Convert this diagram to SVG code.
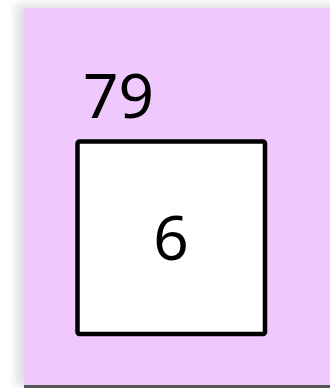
<svg xmlns="http://www.w3.org/2000/svg" width="330" height="388" viewBox="0 0 330 388">
<defs>
<filter id="sh" x="-20%" y="-20%" width="140%" height="140%">
<feGaussianBlur stdDeviation="5"/>
</filter>
<style>
.num{font-family:"Noto Sans",sans-serif;font-size:62px;fill:#000}
</style>
</defs>
<rect width="330" height="388" fill="#ffffff"/>
<rect x="16" y="4" width="330" height="382" fill="#b0b0b0" filter="url(#sh)" opacity="0.4"/>
<rect x="24" y="8" width="306" height="378" fill="#efc8fd"/>
<rect x="24" y="385" width="306" height="3" fill="#555"/>
<g id="outer-label">
<text class="num" x="83" y="118">79</text>
</g>
<g id="node-6">
<rect x="77.5" y="141.5" width="187.5" height="192.5" rx="2" fill="#fff" stroke="#000" stroke-width="4.5"/>
<text class="num" x="171" y="260" text-anchor="middle">6</text>
</g>
<g id="connectors"/>
</svg>
